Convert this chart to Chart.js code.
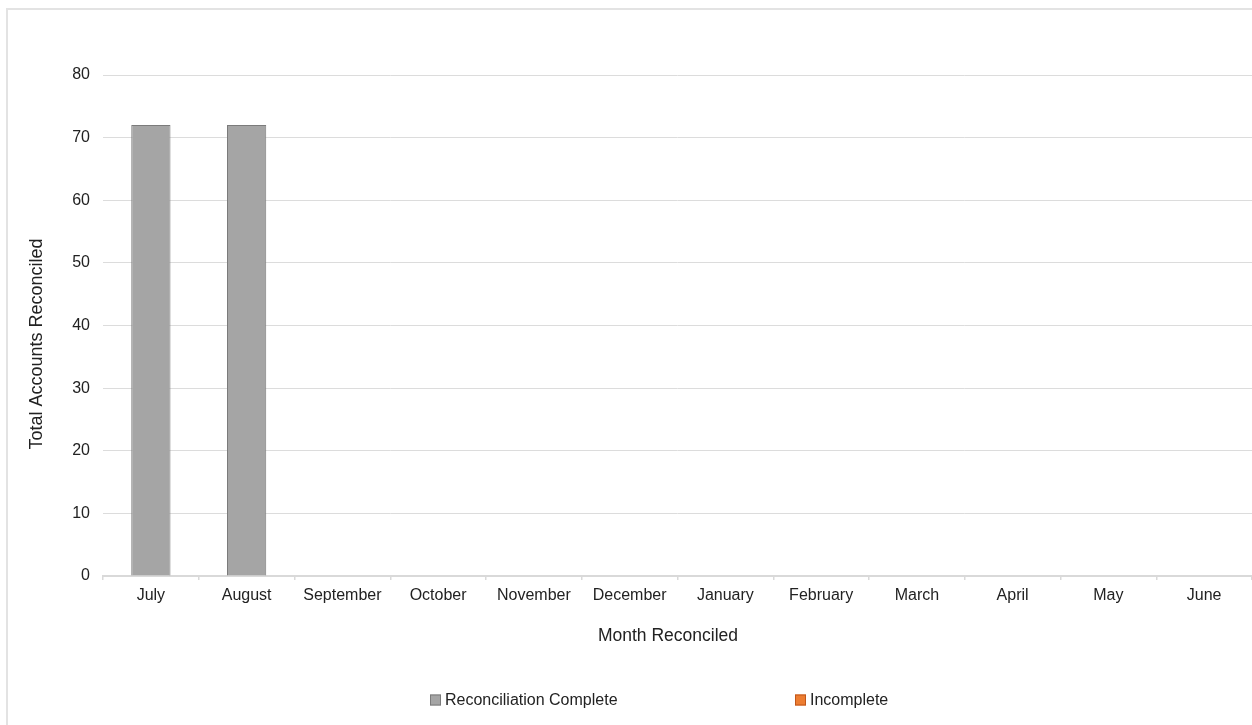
<!DOCTYPE html>
<html>
<head>
<meta charset="utf-8">
<script src="https://cdn.jsdelivr.net/npm/chart.js@4.4.1/dist/chart.umd.min.js"></script>
<style>
  html, body { margin: 0; padding: 0; background: #ffffff; }
  #wrap { width: 1252px; height: 725px; position: relative; }
</style>
</head>
<body>
<div id="wrap"><canvas id="c" width="1252" height="725"></canvas></div>
<script>
const months = ["July", "August", "September", "October", "November", "December", "January", "February", "March", "April", "May", "June"];
const reconciliationComplete = [72, 72, null, null, null, null, null, null, null, null, null, null];
const incomplete = [0, 0, null, null, null, null, null, null, null, null, null, null];
const seriesNames = ["Reconciliation Complete", "Incomplete"];
const yTitle = "Total Accounts Reconciled";
const xTitle = "Month Reconciled";

const FONT = "'Liberation Sans', Arial, sans-serif";
const TEXT = "#222222";

const frame = {
  id: 'frame',
  beforeDraw(chart) {
    const ctx = chart.ctx;
    ctx.save();
    ctx.fillStyle = '#ffffff';
    ctx.fillRect(0, 0, chart.width, chart.height);
    ctx.strokeStyle = '#e3e3e3';
    ctx.lineWidth = 2;
    ctx.strokeRect(7, 9, chart.width + 10, chart.height + 10);
    ctx.restore();
  }
};

// Axis titles and legend drawn as real text at the reference positions
const annotations = {
  id: 'annotations',
  afterDraw(chart) {
    const ctx = chart.ctx;
    ctx.save();
    ctx.fillStyle = TEXT;
    ctx.font = "17.5px " + FONT;
    ctx.textAlign = 'center';
    ctx.textBaseline = 'middle';
    ctx.fillText(xTitle, 668, 636);
    ctx.save();
    ctx.translate(37, 344);
    ctx.rotate(-Math.PI / 2);
    ctx.font = "18px " + FONT;
    ctx.fillText(yTitle, 0, 0);
    ctx.restore();

    const xs = [430, 795];
    const y = 700;
    ctx.font = "16px " + FONT;
    ctx.textAlign = 'left';
    chart.data.datasets.forEach((ds, i) => {
      const x = xs[i];
      ctx.fillStyle = ds.legendFill || ds.backgroundColor;
      ctx.fillRect(x, y - 5.5, 11, 11);
      ctx.strokeStyle = ds.legendStroke || ds.borderColor;
      ctx.lineWidth = 1;
      ctx.strokeRect(x + 0.5, y - 5, 10, 10);
      ctx.fillStyle = TEXT;
      ctx.fillText(ds.label, x + 15, y + 1);
    });
    ctx.restore();
  }
};

new Chart(document.getElementById('c'), {
  type: 'bar',
  data: {
    labels: months,
    datasets: [
      {
        label: seriesNames[0],
        data: reconciliationComplete,
        backgroundColor: '#a5a5a5',
        borderColor: '#7b7b7b',
        borderWidth: 1,
        borderSkipped: 'bottom',
        barPercentage: 0.41,
        categoryPercentage: 1.0
      },
      {
        label: seriesNames[1],
        data: incomplete,
        backgroundColor: '#ed7d31',
        borderColor: '#c55a11',
        borderWidth: 0,
        legendFill: '#ed7d31',
        legendStroke: '#c0561a',
        barPercentage: 0.41,
        categoryPercentage: 1.0
      }
    ]
  },
  options: {
    responsive: false,
    animation: false,
    events: [],
    layout: { padding: { top: 75, right: 0, left: 0, bottom: 0 } },
    plugins: {
      legend: { display: false },
      tooltip: { enabled: false },
      title: { display: false }
    },
    scales: {
      x: {
        stacked: true,
        grid: {
          display: true,
          offset: true,
          drawOnChartArea: false,
          drawTicks: true,
          tickLength: 4,
          color: '#d9d9d9',
          lineWidth: 1.5
        },
        border: { display: true, color: '#d9d9d9', width: 2 },
        ticks: {
          color: TEXT,
          font: { family: FONT, size: 16 },
          padding: 6,
          maxRotation: 0,
          autoSkip: false
        },
        title: { display: false, text: xTitle },
        afterFit(scale) { scale.height = 149; }
      },
      y: {
        stacked: true,
        min: 0,
        max: 80,
        grid: {
          color: '#dcdcdc',
          lineWidth: 1,
          drawTicks: false
        },
        border: { display: false },
        ticks: {
          stepSize: 10,
          color: TEXT,
          font: { family: FONT, size: 16 },
          padding: 13
        },
        title: { display: false, text: yTitle },
        afterFit(scale) { scale.width = 103; }
      }
    }
  },
  plugins: [frame, annotations]
});
</script>
</body>
</html>
